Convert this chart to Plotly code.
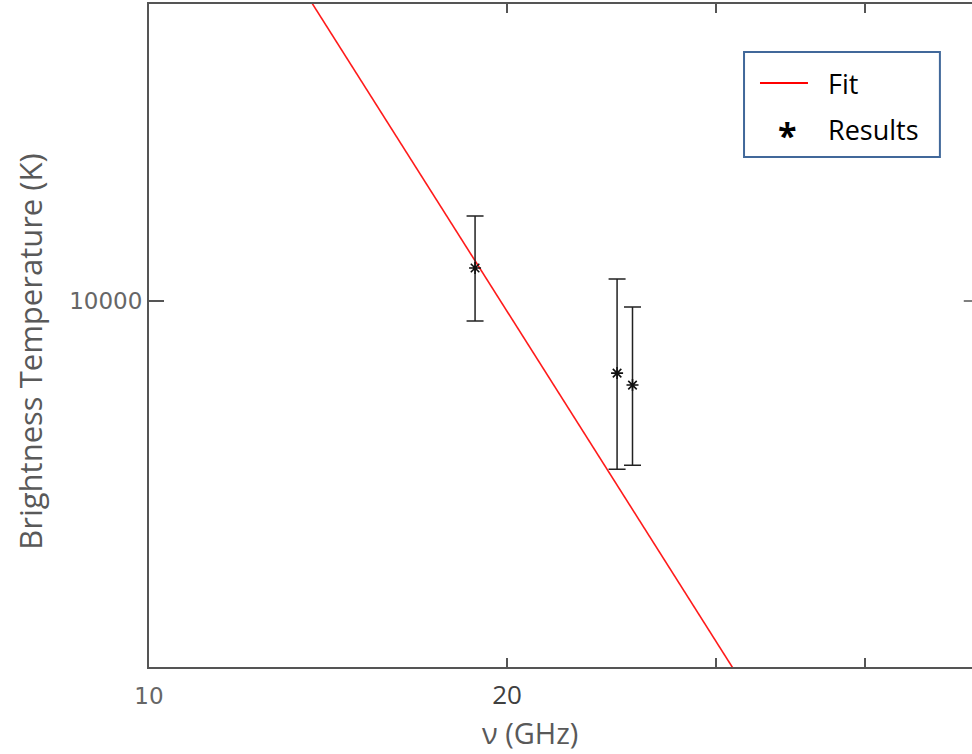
import plotly.graph_objects as go

# Measured brightness temperatures with asymmetric uncertainties
freq_ghz = [18.8, 24.75, 25.5]
temp_k = [10790, 8470, 8240]
err_plus = [1370, 2050, 1620]
err_minus = [1240, 1680, 1390]

# Power-law fit, evaluated at the ends of the plotted band
fit_freq = [13.5, 31.5]
fit_temp = [20440, 4160]

x_ticks = [10, 20, 30, 40]
x_ticktext = ["10", "<span style='font-size:26px;color:#404040;font-family:Open Sans'>20</span>", "", ""]
y_ticks = [10000]
y_ticktext = ["10000"]

frame = "#555555"

fig = go.Figure()

fig.add_trace(go.Scatter(
    x=fit_freq, y=fit_temp, mode="lines", name="Fit",
    line=dict(color="#ff1a1a", width=1.6), showlegend=False,
))

fig.add_trace(go.Scatter(
    x=freq_ghz, y=temp_k, mode="markers", name="Results",
    marker=dict(symbol="asterisk-open", size=10, color="#111111",
                line=dict(color="#111111", width=1.6)),
    error_y=dict(type="data", symmetric=False, array=err_plus, arrayminus=err_minus,
                 color="#222222", thickness=1.5, width=8.5),
    showlegend=False,
))

fig.update_xaxes(
    type="log", range=[1, 1.692],
    tickmode="array", tickvals=x_ticks, ticktext=x_ticktext,
    ticks="inside", ticklen=9, tickwidth=1.5, tickcolor=frame,
    showline=True, linecolor=frame, linewidth=2, mirror="ticks",
    showgrid=False, zeroline=False, ticklabelstandoff=7,
    tickfont=dict(family="DejaVu Sans", size=23, color="#666666"),
)
fig.update_yaxes(
    type="log", range=[3.634, 4.297],
    tickmode="array", tickvals=y_ticks, ticktext=y_ticktext,
    ticks="inside", ticklen=15, tickwidth=1.5, tickcolor=frame,
    showline=True, linecolor=frame, linewidth=2, mirror=False,
    showgrid=False, zeroline=False,
    tickfont=dict(family="DejaVu Sans", size=23, color="#666666"),
)

# Right-hand tick at 10000 K
fig.add_shape(type="line", xref="paper", yref="y", x0=0.990, x1=1.0,
              y0=y_ticks[0], y1=y_ticks[0], line=dict(color=frame, width=1.5))

fig.add_annotation(text="Brightness Temperature (K)", textangle=-90,
                   xref="paper", yref="paper", x=-0.145, y=0.475,
                   xanchor="center", yanchor="middle", showarrow=False,
                   font=dict(family="Open Sans", size=31, color="#595959"))
fig.add_annotation(text="ν (GHz)", xref="paper", yref="paper", x=0.463, y=-0.0995,
                   xanchor="center", yanchor="middle", showarrow=False,
                   font=dict(family="Open Sans", size=29, color="#595959"),
                   borderpad=0)

# Legend box
legend_font = dict(family="Open Sans", size=27, color="#000000")
fig.add_shape(type="rect", xref="paper", yref="paper", x0=0.723, x1=0.961,
              y0=0.7692, y1=0.9276, line=dict(color="#41689A", width=2),
              fillcolor="white")
fig.add_shape(type="line", xref="paper", yref="paper", x0=0.7424, x1=0.8007,
              y0=0.8808, y1=0.8808, line=dict(color="#ff0000", width=2))
fig.add_annotation(text="Fit", xref="paper", yref="paper", x=0.822, y=0.8808,
                   xanchor="left", yanchor="middle", showarrow=False, font=legend_font)
fig.add_annotation(text="<b>*</b>", xref="paper", yref="paper", x=0.7755, y=0.803,
                   xanchor="center", yanchor="middle", showarrow=False,
                   font=dict(family="Open Sans", size=34, color="#000000"))
fig.add_annotation(text="Results", xref="paper", yref="paper", x=0.822, y=0.8105,
                   xanchor="left", yanchor="middle", showarrow=False, font=legend_font)

fig.update_layout(
    width=972, height=754,
    margin=dict(l=149, r=0, t=4, b=87),
    paper_bgcolor="white", plot_bgcolor="white",
    showlegend=False,
)

fig.write_html("out.html")
